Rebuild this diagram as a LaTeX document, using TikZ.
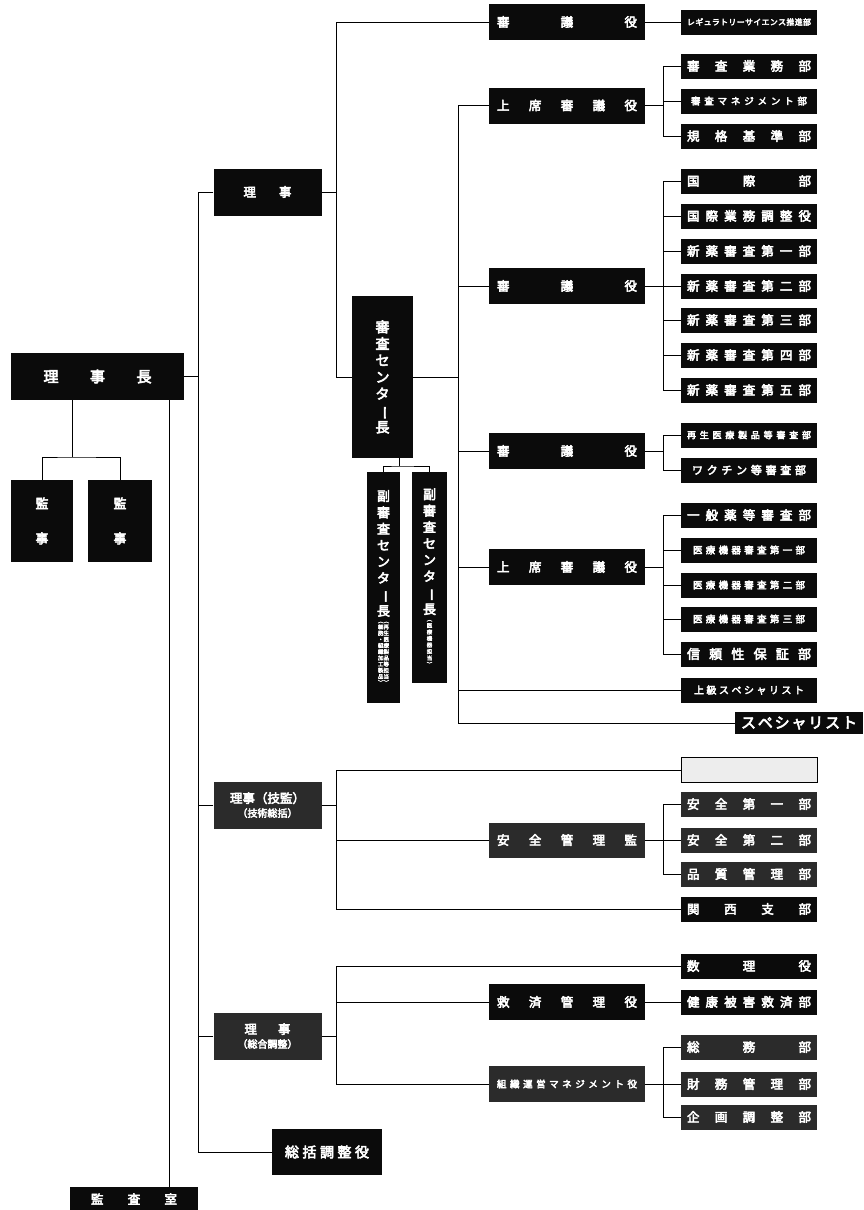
\documentclass[tikz,border=0pt]{standalone}
\usepackage{fontspec}
\usepackage{graphicx}
\setmainfont{Noto Sans CJK JP}[FakeBold=4]
\definecolor{boxblack}{HTML}{0B0B0B}
\definecolor{boxgrain}{HTML}{2B2B2B}
\definecolor{boxblank}{HTML}{EDEDED}
\tikzset{
  orgbox/.style={fill=boxblack, text=white, inner sep=0pt, font=\fontsize{12.5}{14}\selectfont},
  grain/.style={fill=boxgrain},
  officer/.style={orgbox, minimum width=156pt, minimum height=36pt},
  dept/.style={orgbox, minimum width=136pt, minimum height=25pt},
  director/.style={orgbox, minimum width=108pt, minimum height=47pt, align=center},
  vertbox/.style={orgbox, align=center},
  fine/.style={font=\fontsize{9.5}{11}\selectfont},
  link/.style={draw=black, line width=0.8pt},
}
\newcommand{\spreadtext}[2]{\makebox[#1][s]{\foreach \cj [count=\k] in {#2}{\ifnum\k>1\hfill\fi\cj}}}
\newcommand{\chouon}{\rotatebox[origin=c]{-90}{ー}}
\newcommand{\vstack}[3]{\vbox{\fontsize{#1}{#2}\selectfont\foreach \cj in {#3}{\hbox to #1pt{\hss\cj\hss}}}}
\newcommand{\deputytext}[2]{\vbox{\hbox to 30pt{\hss\vstack{13}{16.4}{副,審,査,セ,ン,タ,\chouon,長}\hss}\vskip 4pt\hbox to 30pt{\hss#1#2\hss}}}

\begin{document}
\begin{tikzpicture}[x=1pt,y=-1pt]
  \useasboundingbox (0,0) rectangle (863,1210);
  % top of the chart
  \node[orgbox, minimum width=173pt, minimum height=47pt, font=\fontsize{15}{17}\selectfont] (chief) at (97.5,376.5) {\spreadtext{108pt}{理,事,長}};
  \node[vertbox, minimum width=62pt, minimum height=82pt, font=\fontsize{13}{35}\selectfont] (auditorA) at (42,521) {監\\事};
  \node[vertbox, minimum width=64pt, minimum height=82pt, font=\fontsize{13}{35}\selectfont] (auditorB) at (120,521) {監\\事};
  \node[orgbox, minimum width=128pt, minimum height=24pt] (auditoffice) at (134,1199) {\spreadtext{86pt}{監,査,室}};
  \node[director] (riji1) at (267.5,192) {\spreadtext{48pt}{理,事}};
  \node[director, grain] (riji2) at (267.5,805) {理事（技監）\\{\fontsize{10}{12}\selectfont（技術総括）}};
  \node[director, grain] (riji3) at (267.5,1036) {\spreadtext{46pt}{理,事}\\{\fontsize{10}{12}\selectfont（総合調整）}};
  \node[orgbox, minimum width=110pt, minimum height=46pt, font=\fontsize{14}{16}\selectfont] (coord) at (327,1152) {\spreadtext{84pt}{総,括,調,整,役}};
  % review center
  \node[orgbox, minimum width=61pt, minimum height=162pt] (center) at (382.5,377) {\vstack{14}{16.7}{審,査,セ,ン,タ,\chouon,長}};
  \node[orgbox, minimum width=33pt, minimum height=231pt] (deputyA) at (383.5,587.5) {\deputytext{\vstack{5.5}{6.2}{︵,細,胞,・,組,織,加,工,製,品,︶}}{\vstack{5.5}{6.2}{︵,再,生,医,療,製,品,等,担,当,︶}}};
  \node[orgbox, minimum width=35pt, minimum height=211pt] (deputyB) at (429.5,577.5) {\deputytext{\vstack{5.5}{6.5}{︵,医,療,機,器,担,当,︶}}{}};
  \node[officer] (adviserA) at (567,22) {\spreadtext{140pt}{審,議,役}};
  \node[officer] (seniorA) at (567,105.5) {\spreadtext{140pt}{上,席,審,議,役}};
  \node[officer] (adviserB) at (567,286) {\spreadtext{140pt}{審,議,役}};
  \node[officer] (adviserC) at (567,451) {\spreadtext{140pt}{審,議,役}};
  \node[officer] (seniorB) at (567,567) {\spreadtext{140pt}{上,席,審,議,役}};
  \node[dept, font=\fontsize{8}{9}\selectfont] (regsci) at (749,22) {\spreadtext{124pt}{レ,ギ,ュ,ラ,ト,リ,ー,サ,イ,エ,ン,ス,推,進,部}};
  \node[dept] (review1) at (749,66) {\spreadtext{124pt}{審,査,業,務,部}};
  \node[dept, fine] (review2) at (749,101) {\spreadtext{116pt}{審,査,マ,ネ,ジ,メ,ン,ト,部}};
  \node[dept] (review3) at (749,136) {\spreadtext{124pt}{規,格,基,準,部}};
  \node[dept] (intl) at (749,181) {\spreadtext{124pt}{国,際,部}};
  \node[dept] (intlcoord) at (749,216) {\spreadtext{124pt}{国,際,業,務,調,整,役}};
  \node[dept] (new1) at (749,251) {\spreadtext{124pt}{新,薬,審,査,第,一,部}};
  \node[dept] (new2) at (749,286) {\spreadtext{124pt}{新,薬,審,査,第,二,部}};
  \node[dept] (new3) at (749,320) {\spreadtext{124pt}{新,薬,審,査,第,三,部}};
  \node[dept] (new4) at (749,355) {\spreadtext{124pt}{新,薬,審,査,第,四,部}};
  \node[dept] (new5) at (749,390) {\spreadtext{124pt}{新,薬,審,査,第,五,部}};
  \node[dept, font=\fontsize{9}{10}\selectfont] (regen) at (749,435) {\spreadtext{124pt}{再,生,医,療,製,品,等,審,査,部}};
  \node[dept, font=\fontsize{11}{12}\selectfont] (vaccine) at (749,470) {\spreadtext{114pt}{ワ,ク,チ,ン,等,審,査,部}};
  \node[dept] (generic) at (749,515) {\spreadtext{124pt}{一,般,薬,等,審,査,部}};
  \node[dept, fine] (device1) at (749,550) {\spreadtext{112pt}{医,療,機,器,審,査,第,一,部}};
  \node[dept, fine] (device2) at (749,585) {\spreadtext{112pt}{医,療,機,器,審,査,第,二,部}};
  \node[dept, fine] (device3) at (749,619) {\spreadtext{112pt}{医,療,機,器,審,査,第,三,部}};
  \node[dept, font=\fontsize{13}{14}\selectfont] (reliability) at (749,654) {\spreadtext{124pt}{信,頼,性,保,証,部}};
  \node[dept, font=\fontsize{10}{11}\selectfont] (upper) at (749,690) {\spreadtext{110pt}{上,級,ス,ペ,シ,ャ,リ,ス,ト}};
  \node[orgbox, minimum width=128pt, minimum height=22pt, font=\fontsize{15}{16}\selectfont] (specialist) at (799,723) {\spreadtext{116pt}{ス,ペ,シ,ャ,リ,ス,ト}};
  % safety group
  \node[dept, fill=boxblank, draw=black] (vacant) at (749,770) {};
  \node[officer, grain, minimum height=35pt] (safety) at (567,840) {\spreadtext{140pt}{安,全,管,理,監}};
  \node[dept, grain] (safe1) at (749,804) {\spreadtext{124pt}{安,全,第,一,部}};
  \node[dept, grain] (safe2) at (749,840) {\spreadtext{124pt}{安,全,第,二,部}};
  \node[dept, grain] (quality) at (749,874) {\spreadtext{124pt}{品,質,管,理,部}};
  \node[dept] (kansai) at (749,909) {\spreadtext{124pt}{関,西,支,部}};
  % relief and management group
  \node[dept] (actuary) at (749,966) {\spreadtext{124pt}{数,理,役}};
  \node[officer] (reliefmgr) at (567,1002) {\spreadtext{140pt}{救,済,管,理,役}};
  \node[dept] (health) at (749,1002) {\spreadtext{124pt}{健,康,被,害,救,済,部}};
  \node[officer, grain, fine] (orgmgr) at (567,1084) {\spreadtext{140pt}{組,織,運,営,マ,ネ,ジ,メ,ン,ト,役}};
  \node[dept, grain] (general) at (749,1047) {\spreadtext{124pt}{総,務,部}};
  \node[dept, grain] (finance) at (749,1084) {\spreadtext{124pt}{財,務,管,理,部}};
  \node[dept, grain] (planning) at (749,1117) {\spreadtext{124pt}{企,画,調,整,部}};

  % connectors
  \coordinate (audsplit) at (72,457);
  \coordinate (auditline) at (169,0);
  \coordinate (depsplit) at (399,466);
  \draw[link] (audsplit |- chief.south) -- (audsplit);
  \draw[link] (auditorA.north) |- (audsplit) -| (auditorB.north);
  \draw[link] (auditline |- chief.south) -- (auditline |- auditoffice.north);
  \draw[link] (riji1.west) -- ++(-15,0) coordinate (trunk) |- (coord.west);
  \foreach \n in {chief.east, riji2.west, riji3.west}
    \draw[link] (\n) -- (\n -| trunk);
  \draw[link] (riji1.east) -- ++(15,0) coordinate (splitA);
  \draw[link] (adviserA.west) -| (splitA) |- (center.west);
  \draw[link] (adviserA.east) -- (regsci.west);
  \draw[link] (depsplit |- center.south) -- (depsplit);
  \draw[link] (deputyA.north) |- (depsplit) -| (deputyB.north);
  \draw[link] (center.east) -- ++(45,0) coordinate (splitB);
  \draw[link] (seniorA.west) -| (splitB) |- (specialist.west);
  \foreach \n in {adviserB, adviserC, seniorB, upper}
    \draw[link] (\n.west) -- (\n.west -| splitB);
  \foreach \boss/\first/\last in {seniorA/review1/review3, adviserB/intl/new5, adviserC/regen/vaccine, seniorB/generic/reliability, safety/safe1/quality, orgmgr/general/planning}{
    \draw[link] (\boss.east) -- ++(18,0) coordinate (fork);
    \draw[link] (\first.west) -| (fork) |- (\last.west);}
  \foreach \c in {review2, intlcoord, new1, new2, new3, new4, generic, device1, device2, device3, safe2, finance}
    \draw[link] (\c.west) -- ++(-18,0);
  \draw[link] (riji2.east) -- ++(15,0) coordinate (splitC);
  \draw[link] (vacant.west) -| (splitC) |- (kansai.west);
  \draw[link] (safety.west) -- (safety.west -| splitC);
  \draw[link] (riji3.east) -- ++(15,0) coordinate (splitD);
  \draw[link] (actuary.west) -| (splitD) |- (orgmgr.west);
  \draw[link] (reliefmgr.west) -- (reliefmgr.west -| splitD);
  \draw[link] (reliefmgr.east) -- (health.west);
\end{tikzpicture}
\end{document}
